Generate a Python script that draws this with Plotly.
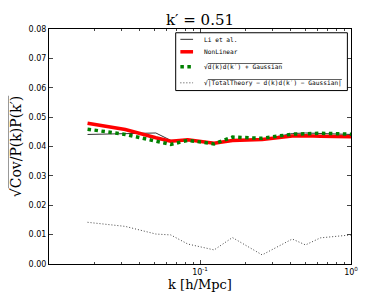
import plotly.graph_objects as go

k = [0.018, 0.032, 0.051, 0.064, 0.083, 0.124, 0.164, 0.258, 0.408, 0.5, 0.627, 1.0]
li_etal = [0.0441, 0.0443, 0.0446, 0.0421, 0.0420, 0.0411, 0.0418, 0.0424, 0.0444, 0.0446, 0.0445, 0.0441]
nonlinear = [0.0479, 0.0458, 0.0430, 0.0418, 0.0423, 0.0411, 0.0420, 0.0424, 0.0436, 0.0437, 0.0435, 0.0433]
dd_gauss = [0.0459, 0.0441, 0.0418, 0.0407, 0.0421, 0.0409, 0.0432, 0.0428, 0.0442, 0.0444, 0.0445, 0.0442]
residual = [0.0142, 0.0128, 0.0102, 0.0099, 0.0068, 0.0048, 0.0090, 0.0031, 0.0085, 0.0065, 0.0089, 0.0099]

series_names = [
    "Li et al.",
    "NonLinear",
    "√<span style='text-decoration:overline'>d(k)d(k′) + Gaussian</span>",
    "√<span style='text-decoration:overline'>|TotalTheory − d(k)d(k′) − Gaussian|</span>",
]
series_styles = [
    dict(color="#333333", width=1),
    dict(color="#ff0000", width=3.5),
    dict(color="#008000", width=3.5, dash="dot"),
    dict(color="#444444", width=1, dash="1px,2px"),
]
series_values = [li_etal, nonlinear, dd_gauss, residual]

yticks = [0.00, 0.01, 0.02, 0.03, 0.04, 0.05, 0.06, 0.07, 0.08]
xtickvals = [0.1, 1.0]
xticktext = ["10<sup>-1</sup>", "10<sup>0</sup>"]

fig = go.Figure()
for name, vals, st in zip(series_names, series_values, series_styles):
    fig.add_trace(go.Scatter(x=k, y=vals, mode="lines", name=name, line=st, showlegend=False))

# hand-made compact legend (matplotlib style)
L_x0, L_x1, L_ytop, L_ybot = 0.4195, 0.988, 0.984, 0.738
fig.add_shape(type="rect", xref="x domain", yref="y domain",
              x0=L_x0, x1=L_x1, y0=L_ybot, y1=L_ytop,
              line=dict(color="black", width=1), fillcolor="white", layer="above")
entry_y = [0.956, 0.903, 0.839, 0.771]
for name, st, ey in zip(series_names, series_styles, entry_y):
    fig.add_shape(type="line", xref="x domain", yref="y domain",
                  x0=0.435, x1=0.477, y0=ey, y1=ey, line=st, layer="above")
    fig.add_annotation(xref="x domain", yref="y domain", x=0.505, y=ey,
                       xanchor="left", yanchor="middle", showarrow=False, text=name,
                       font=dict(family="DejaVu Sans Mono", size=6.2, color="black"))

axis_common = dict(showline=True, linecolor="black", linewidth=1, mirror="ticks",
                   ticks="inside", showgrid=False, zeroline=False, automargin=False,
                   tickfont=dict(family="DejaVu Sans", size=8, color="black"))

fig.update_xaxes(type="log", range=[-2, 0], tickvals=xtickvals, ticktext=xticktext,
                 ticklen=4, minor=dict(ticks="inside", ticklen=2, showgrid=False,
                                       tickvals=[0.02, 0.03, 0.04, 0.05, 0.06, 0.07, 0.08, 0.09,
                                                 0.2, 0.3, 0.4, 0.5, 0.6, 0.7, 0.8, 0.9]),
                 title=dict(text="k [h/Mpc]", font=dict(family="DejaVu Serif", size=13, color="black"),
                            standoff=2),
                 **axis_common)
fig.update_yaxes(range=[0, 0.08], tickvals=yticks, tickformat=".2f", ticklen=4,
                 title=dict(text="√<span style='text-decoration:overline'>Cov/P(k)P(k′)</span>",
                            font=dict(family="DejaVu Serif", size=14, color="black"), standoff=4),
                 **axis_common)

# page body has an 8px margin: figure is sized/offset so the plot area lands where the reference has it
fig.update_layout(
    width=382, height=285,
    margin=dict(l=41, r=39, t=21, b=29),
    paper_bgcolor="white", plot_bgcolor="white",
    title=dict(text="k′ = 0.51", x=0.5026, xanchor="center", y=0.958, yanchor="middle",
               font=dict(family="DejaVu Serif", size=15, color="black")),
    showlegend=False,
)

fig.write_html("out.html")
